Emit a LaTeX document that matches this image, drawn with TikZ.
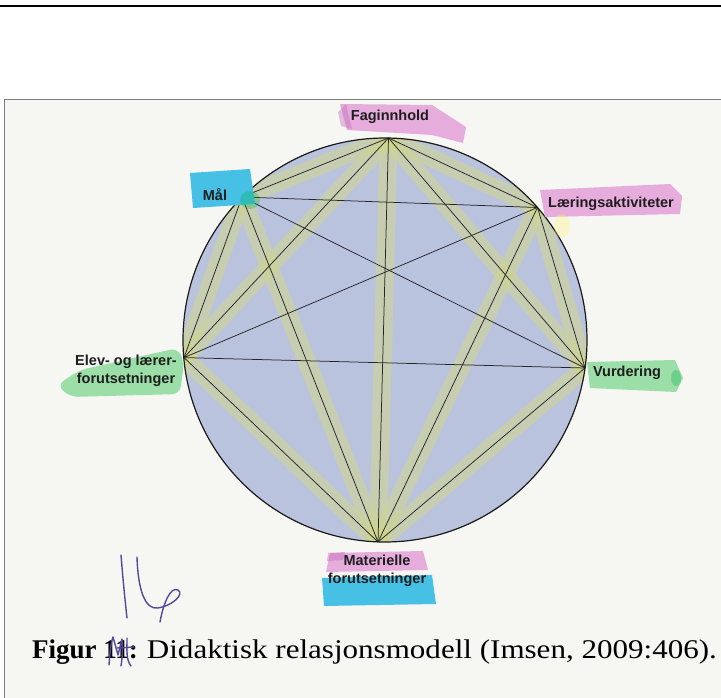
\documentclass[tikz,border=0pt]{standalone}
\usepackage{graphicx}
\usepackage{fontspec}
\setmainfont{Liberation Serif}
\newfontfamily\labfont{Liberation Sans}
\definecolor{discblue}{RGB}{186,195,222}
\definecolor{bandgreen}{RGB}{208,214,140}
\definecolor{hlpink}{RGB}{230,172,220}
\definecolor{hlcyan}{RGB}{70,192,228}
\definecolor{hlgreen}{RGB}{155,222,168}
\definecolor{inkc}{RGB}{85,72,155}
\definecolor{framec}{RGB}{125,125,125}
\definecolor{paperc}{RGB}{246,246,243}
\definecolor{textc}{RGB}{30,30,30}
\begin{document}
\begin{tikzpicture}[x=1pt,y=-1pt,
  lab/.style={font=\labfont\bfseries\fontsize{14.5}{18}\selectfont, inner sep=0pt, text=textc, align=center},
  edge/.style={line width=0.75pt, black!85},
  band/.style={line width=18pt, bandgreen, opacity=0.55, line cap=round},
  ink/.style={draw=inkc, line width=1.4pt, line cap=round, line join=round},
  vtx/.style={circle, inner sep=0pt, minimum size=0pt}]
\useasboundingbox (0,0) rectangle (721,698);
\fill[white] (0,0) rectangle (721,698);
\fill[paperc] (4,100) rectangle (721,698);
\draw[framec, line width=1pt] (4,698) -- (4,100) -- (721,100);
\draw[line width=2.6pt] (0,6) -- (721,6);

% disc
\fill[discblue] (385,340) circle (202pt);
\node[vtx] (F) at (388.5,138) {};
\node[vtx] (M) at (242,197) {};
\node[vtx] (L) at (537.5,207.5) {};
\node[vtx] (E) at (184,357.6) {};
\node[vtx] (V) at (585,368) {};
\node[vtx] (T) at (378,542) {};

% highlighter bands
\begin{scope}
\clip (385,340) circle (202pt);
\foreach \a/\b in {F/M,F/L,M/E,L/V,E/T,V/T,F/E,F/V,F/T,M/T,L/T}
  \draw[band] (\a.center) -- (\b.center);
\end{scope}

% all relations
\foreach \a/\b in {F/M,F/L,F/E,F/V,F/T,M/L,M/E,M/V,M/T,L/E,L/V,L/T,E/V,E/T,V/T}
  \draw[edge] (\a.center) -- (\b.center);
\draw[line width=1.2pt, black!90] (385,340) circle (202pt);

% label highlights
\fill[hlpink] (340,104) -- (432,105) -- (466,127) -- (463,143) -- (432,135) -- (347,130) -- cycle;
\fill[hlpink!60!violet, opacity=0.4] (338,112) -- (346,104) -- (352,129) -- (341,126) -- cycle;
\fill[hlcyan] (190,173) -- (250,169) -- (255,204) -- (193,208) -- cycle;
\fill[teal!60!green, opacity=0.3] (250,200) ellipse (10pt and 9pt);
\fill[hlpink] (540,190) -- (670,184) -- (682,196) -- (680,214) -- (545,217) -- cycle;
\fill[yellow!60, opacity=0.3] (562,226) ellipse (8pt and 12pt);
\fill[hlgreen] (587,362) -- (675,360) -- (683,378) -- (676,392) -- (590,388) -- cycle;
\fill[teal!60!green, opacity=0.3] (676,378) ellipse (5pt and 8pt);
\fill[hlgreen, rounded corners=8pt] (57,385) -- (80,370) -- (178,348) -- (184,362) -- (180,394) -- (70,397) -- cycle;
\fill[hlpink] (330,553) -- (423,551) -- (428,570) -- (326,572) -- cycle;
\fill[hlpink!60!violet, opacity=0.4] (328,553) -- (345,552) -- (343,560) -- (327,561) -- cycle;
\fill[hlcyan] (322,578) -- (432,575) -- (436,604) -- (324,606) -- cycle;

% labels
\node[lab] (lF) at (390,117) {Faginnhold};
\node[lab] (lM) at (215,195) {Mål};
\node[lab] (lL) at (611,204) {Læringsaktiviteter};
\node[lab] (lE) at (126,371) {Elev- og lærer-\\forutsetninger};
\node[lab] (lV) at (627,373) {Vurdering};
\node[lab] (lT) at (377,571) {Materielle\\forutsetninger};

% caption
\node[anchor=base west, inner sep=0pt, text=black] (cap) at (32,658)
  {\fontsize{27}{32}\selectfont\textbf{Figur 11:} \scalebox{1.15}[1]{Didaktisk relasjonsmodell (Imsen, 2009:406).}};

% handwriting
\draw[ink] (121,555) .. controls (123,580) and (125,600) .. (127,618);
\draw[ink] (137,557) .. controls (138,590) and (145,610) .. (158,608)
  .. controls (172,606) and (185,594) .. (178,590)
  .. controls (170,586) and (163,605) .. (160,622);
\draw[ink] (109,665) .. controls (110,652) and (111,642) .. (113,637) -- (118,655) -- (122,639)
  .. controls (123,650) and (122,660) .. (121,666);
\draw[ink] (117,648) -- (134,647);
\draw[ink] (127,638) .. controls (127,650) and (126,660) .. (131,666);
\end{tikzpicture}
\end{document}
